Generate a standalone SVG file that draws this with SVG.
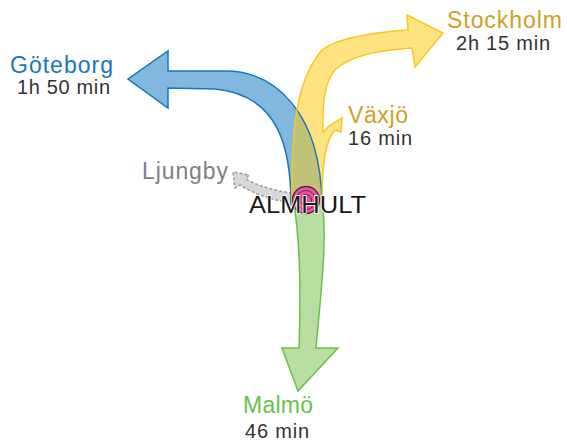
<svg xmlns="http://www.w3.org/2000/svg" width="567" height="441" viewBox="0 0 567 441">
<style>
.t{font-family:"Liberation Sans",Arial,sans-serif}
.city{font-size:23px}
.time{font-size:20px;fill:#333333}
.edge{fill:none;stroke-width:1.5;stroke-linejoin:miter}
</style>
<defs>
<path id="bluePath" d="M291,205 C291,150 280,95 215,89 L168,88 L168,108 L128,79 L168,51 L168,71 L225,71 C275,71 321,112 322,205 Z"/>
<path id="yellowPath" d="M292,205 C291,130 296,80 322,50 C340,36 380,32 408,30 L407,15 L443,33 L415,67 L412,48 C380,50 350,55 335,70 C324,82 322,105 323,132 L329,126 L342,118 L341,132 L335,130 C326,140 322,160 322,205 Z"/>
<clipPath id="blueClip"><use href="#bluePath"/></clipPath>
</defs>
<g id="connectors">
<g id="malmo-arrow">
<path d="M293,200 C300,235 301,290 299,348 L282,348 L298,391 L338,348 L316,348 C320,300 328,240 322,200 Z" fill="#b9dea1" stroke="#6cc04a" stroke-width="1.5"/>
</g>
<g id="ljungby-arrow">
<path d="M292,193 C275,191 258,186 246,179 L249,175 L233,172 L235,188 L240,185 C254,194 272,200 292,203 Z" fill="#d9d9d9" stroke="#9a9a9a" stroke-width="1.5" stroke-dasharray="3,2"/>
</g>
<g id="goteborg-arrow">
<use href="#bluePath" fill="#7fb9e0"/>
</g>
<g id="stockholm-vaxjo-arrow">
<use href="#yellowPath" fill="#ffe380"/>
<use href="#yellowPath" fill="#bfc277" clip-path="url(#blueClip)"/>
</g>
<use href="#bluePath" class="edge" stroke="#1b75bc"/>
<use href="#yellowPath" class="edge" stroke="#f7c81e"/>
</g>
<g id="almhult">
<circle cx="306" cy="200" r="13.5" fill="#e4539b" stroke="#5a2444" stroke-width="1.3"/>
<circle cx="306" cy="200" r="9.5" fill="none" stroke="#7a2050" stroke-width="1"/>
<circle cx="306" cy="200" r="5.5" fill="none" stroke="#7a2050" stroke-width="1"/>
<text class="t city" x="249" y="213" textLength="117" lengthAdjust="spacingAndGlyphs" fill="#1a1a1a" stroke="#ffffff" stroke-width="1.5" paint-order="stroke">ALMHULT</text>
</g>
<g id="goteborg">
<text class="t city" x="10" y="73" textLength="103" fill="#1b75bc">Göteborg</text>
<text class="t time" x="17" y="94" textLength="93">1h 50 min</text>
</g>
<g id="stockholm">
<text class="t city" x="447" y="28" textLength="115" fill="#c9a228">Stockholm</text>
<text class="t time" x="456" y="50" textLength="94">2h 15 min</text>
</g>
<g id="vaxjo">
<text class="t city" x="348" y="123" textLength="60" fill="#c9a228">Växjö</text>
<text class="t time" x="348" y="145" textLength="64">16 min</text>
</g>
<g id="ljungby">
<text class="t city" x="142" y="179" textLength="86" fill="#808080">Ljungby</text>
</g>
<g id="malmo">
<text class="t city" x="243" y="413" textLength="70" fill="#6cbf4b">Malmö</text>
<text class="t time" x="245" y="438" textLength="64">46 min</text>
</g>
</svg>
